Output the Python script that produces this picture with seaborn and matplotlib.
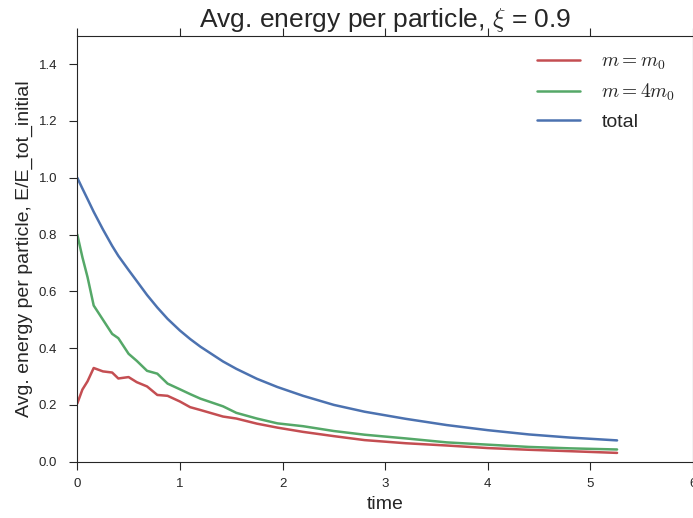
import seaborn as sns
import matplotlib
matplotlib.use('Agg')
import matplotlib.pyplot as plt
import pandas as pd

# values
time = [0.0, 0.05, 0.1, 0.16, 0.25, 0.34, 0.4, 0.5, 0.58, 0.68, 0.78, 0.88,
        1.0, 1.1, 1.2, 1.42, 1.55, 1.75, 1.95, 2.2, 2.5, 2.8, 3.2, 3.6,
        4.0, 4.4, 4.8, 5.26]
energy_m0 = [0.205, 0.254, 0.283, 0.33, 0.318, 0.314, 0.293, 0.298, 0.28, 0.265,
             0.235, 0.232, 0.212, 0.192, 0.182, 0.159, 0.152, 0.134, 0.12, 0.105,
             0.09, 0.076, 0.065, 0.057, 0.048, 0.042, 0.037, 0.031]
energy_4m0 = [0.80, 0.72, 0.65, 0.55, 0.50, 0.45, 0.435, 0.38, 0.355, 0.32,
              0.31, 0.275, 0.255, 0.238, 0.222, 0.195, 0.172, 0.152, 0.135, 0.125,
              0.108, 0.095, 0.082, 0.068, 0.06, 0.052, 0.047, 0.043]
energy_total = [1.0, 0.962, 0.925, 0.88, 0.818, 0.76, 0.725, 0.675, 0.636, 0.587,
                0.543, 0.503, 0.462, 0.432, 0.405, 0.353, 0.327, 0.292, 0.263, 0.232,
                0.200, 0.176, 0.151, 0.129, 0.111, 0.096, 0.085, 0.075]

labels = [r'$m=m_0$', r'$m=4m_0$', 'total']
colors = ['#C44E52', '#55A868', '#4C72B0']

frames = []
for lab, vals in zip(labels, [energy_m0, energy_4m0, energy_total]):
    frames.append(pd.DataFrame({'time': time, 'energy': vals, 'series': lab}))
df = pd.concat(frames, ignore_index=True)

sns.set_style('ticks')
plt.rcParams['font.family'] = ['Liberation Sans', 'DejaVu Sans']
plt.rcParams['mathtext.fontset'] = 'cm'

fig = plt.figure(figsize=(6.93, 5.18), dpi=100)
ax = fig.add_axes([0.1115, 0.1087, 0.8885, 0.8223])
sns.lineplot(data=df, x='time', y='energy', hue='series', hue_order=labels,
             palette=colors, linewidth=1.8, ax=ax)

ax.set_xlim(0, 6)
ax.set_ylim(0, 1.5)
ax.set_yticks([0.0, 0.2, 0.4, 0.6, 0.8, 1.0, 1.2, 1.4])
ax.tick_params(top=True, right=True, direction='out', length=5.5, labelsize=9.5)
ax.tick_params(axis='x', pad=6.5)
ax.tick_params(axis='y', pad=9)
for sp in ax.spines.values():
    sp.set_visible(True)
    sp.set_color('.15')

ax.set_xlabel('time', fontsize=14)
ax.set_ylabel('Avg. energy per particle, E/E_tot_initial', fontsize=14)
ax.set_title(r'Avg. energy per particle, $\xi$ = 0.9', fontsize=19)

leg = ax.legend(loc='upper right', frameon=False, fontsize=14,
                handlelength=2.2, handletextpad=1.1)
leg.set_title(None)

fig.savefig('out.png', dpi=100)
